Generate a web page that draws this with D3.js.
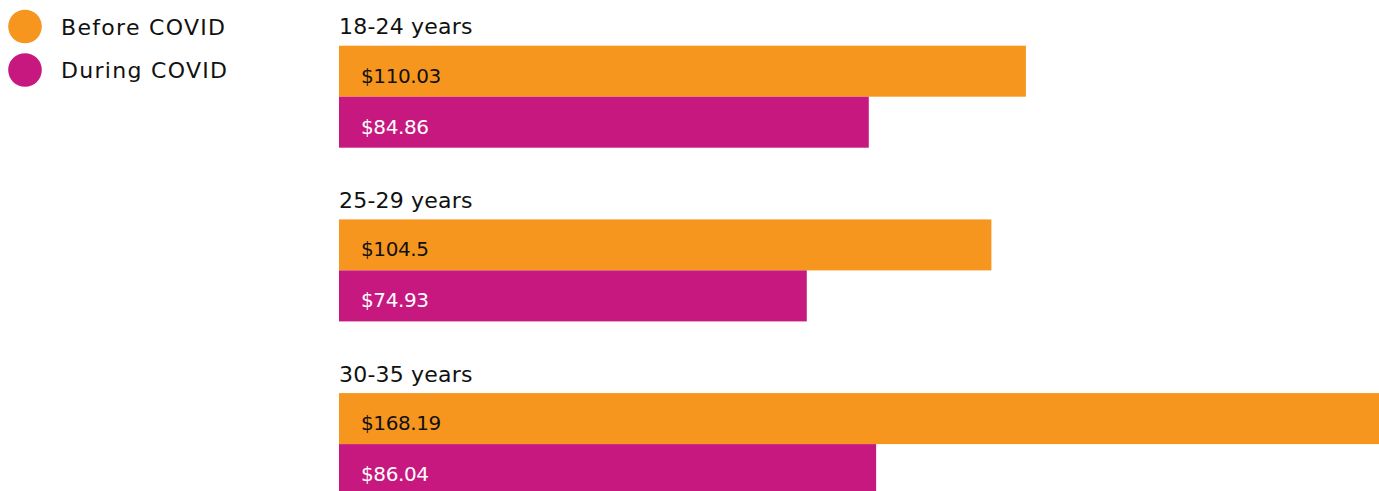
<!DOCTYPE html>
<html>
<head>
<meta charset="utf-8">
<script src="https://cdn.jsdelivr.net/npm/d3@7"></script>
<style>
  html, body { margin: 0; padding: 0; background: #ffffff; overflow: hidden; }
  svg { display: block; }
  text { font-family: "DejaVu Sans", sans-serif; }
</style>
</head>
<body>
<div id="chart"></div>
<script>
// Average spend per age group, before and during COVID
const ageGroups = ["18-24 years", "25-29 years", "30-35 years"];
const seriesNames = ["Before COVID", "During COVID"];
const beforeCovid = [110.03, 104.5, 168.19];
const duringCovid = [84.86, 74.93, 86.04];
const valueLabels = [["$110.03", "$84.86"], ["$104.5", "$74.93"], ["$168.19", "$86.04"]];

const width = 1379, height = 491;
const colors = { "Before COVID": "#F7961F", "During COVID": "#C71880" };
const textColors = { "Before COVID": "#111111", "During COVID": "#ffffff" };

const rows = ageGroups.map((g, i) => ({
  group: g,
  values: [
    { series: seriesNames[0], value: beforeCovid[i], label: valueLabels[i][0] },
    { series: seriesNames[1], value: duringCovid[i], label: valueLabels[i][1] }
  ]
}));

const svg = d3.select("#chart").append("svg")
  .attr("width", width)
  .attr("height", height);

// Bars run past the right edge for the largest value
const x = d3.scaleLinear()
  .domain([0, d3.max(beforeCovid)])
  .range([339, 1389]);

const y = d3.scaleBand()
  .domain(ageGroups)
  .range([45.7, 495.1])
  .paddingInner(0.4128)
  .paddingOuter(0);

const ySub = d3.scaleBand()
  .domain(seriesNames)
  .range([0, y.bandwidth()])
  .padding(0);

const groups = svg.selectAll("g.group")
  .data(rows)
  .join("g")
  .attr("class", "group")
  .attr("transform", d => `translate(0,${y(d.group)})`);

groups.append("text")
  .attr("x", x(0))
  .attr("y", -11.5)
  .attr("font-size", 22)
  .attr("letter-spacing", 0.2)
  .attr("fill", "#111111")
  .text(d => d.group);

const bars = groups.selectAll("g.bar")
  .data(d => d.values)
  .join("g")
  .attr("class", "bar")
  .attr("transform", d => `translate(0,${ySub(d.series)})`);

bars.append("rect")
  .attr("x", x(0))
  .attr("y", 0)
  .attr("width", d => x(d.value) - x(0))
  .attr("height", ySub.bandwidth())
  .attr("fill", d => colors[d.series]);

bars.append("text")
  .attr("x", x(0) + 22)
  .attr("y", ySub.bandwidth() / 2 + 11.5)
  .attr("font-size", 20)
  .attr("letter-spacing", -0.4)
  .attr("fill", d => textColors[d.series])
  .text(d => d.label);

// Legend
const legend = svg.append("g").attr("class", "legend");
const legendItems = legend.selectAll("g")
  .data(seriesNames)
  .join("g")
  .attr("transform", (d, i) => `translate(25,${26.5 + i * 43.5})`);

legendItems.append("circle")
  .attr("r", 16.8)
  .attr("fill", d => colors[d]);

legendItems.append("text")
  .attr("x", 36)
  .attr("y", 8.3)
  .attr("font-size", 22)
  .attr("letter-spacing", 1.3)
  .attr("fill", "#111111")
  .text(d => d);
</script>
</body>
</html>
